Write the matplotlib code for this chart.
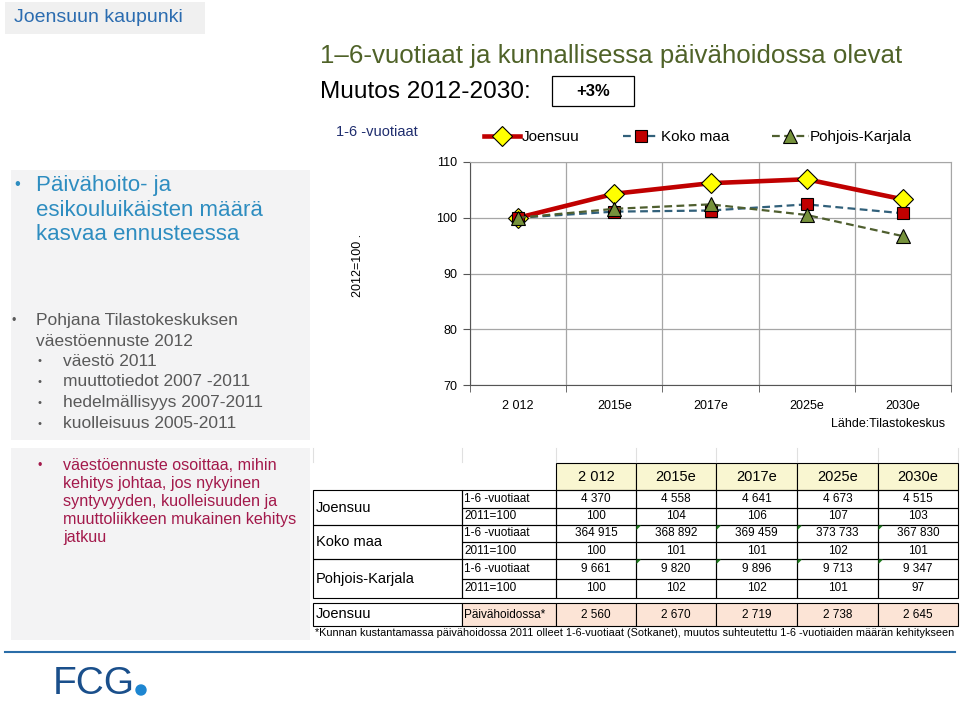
import numpy as np
import matplotlib
matplotlib.use('Agg')
import matplotlib.pyplot as plt
from matplotlib.patches import Rectangle, Polygon, Circle

plt.rcParams['font.family'] = ['Liberation Sans', 'DejaVu Sans']

# data
years = ['2 012', '2015e', '2017e', '2025e', '2030e']
joensuu_idx = [100, 104.3, 106.2, 106.9, 103.3]
koko_idx = [100, 101.1, 101.3, 102.4, 100.8]
pk_idx = [100, 101.6, 102.4, 100.5, 96.7]

groups = ['Joensuu', 'Koko maa', 'Pohjois-Karjala']
sub_labels = ['1-6 -vuotiaat', '2011=100']
joensuu_tab = [['4 370', '4 558', '4 641', '4 673', '4 515'],
               ['100', '104', '106', '107', '103']]
koko_tab = [['364 915', '368 892', '369 459', '373 733', '367 830'],
            ['100', '101', '101', '102', '101']]
pk_tab = [['9 661', '9 820', '9 896', '9 713', '9 347'],
          ['100', '102', '102', '101', '97']]
hoito_label = 'Päivähoidossa*'
hoito_vals = ['2 560', '2 670', '2 719', '2 738', '2 645']

fig = plt.figure(figsize=(9.6, 7.06), dpi=100)

# background layer in pixel coords
bg = fig.add_axes([0, 0, 1, 1])
bg.set_xlim(0, 960)
bg.set_ylim(706, 0)
bg.axis('off')

# header box
bg.add_patch(Rectangle((5, 2), 200, 32, color='#f0f0f0', lw=0))
bg.text(14, 18, 'Joensuun kaupunki', fontsize=14, color='#2b6cb0', va='center')

# left panels
bg.add_patch(Rectangle((11, 170), 299, 270, color='#f3f3f4', lw=0))
bg.add_patch(Rectangle((11, 448), 299, 192, color='#f3f3f4', lw=0))

blue = '#2e8dc0'
bg.text(14, 185, '•', fontsize=12, color=blue, va='center')
for i, s in enumerate(['Päivähoito- ja', 'esikouluikäisten määrä', 'kasvaa ennusteessa']):
    bg.text(36, 185 + i * 25, s, fontsize=16, color=blue, va='center')

grey = '#595959'
bg.text(12, 321, '•', fontsize=9, color=grey, va='center')
bg.text(36, 321, 'Pohjana Tilastokeskuksen', fontsize=12.5, color=grey, va='center')
bg.text(36, 341, 'väestöennuste 2012', fontsize=12.5, color=grey, va='center')
subs = ['väestö 2011', 'muuttotiedot 2007 -2011', 'hedelmällisyys 2007-2011', 'kuolleisuus 2005-2011']
for i, s in enumerate(subs):
    bg.text(37, 361 + i * 21, '•', fontsize=8, color=grey, va='center')
    bg.text(63, 361 + i * 21, s, fontsize=12.5, color=grey, va='center')

pink = '#a3194b'
bg.text(38, 466, '•', fontsize=9, color=pink, va='center')
lines = ['väestöennuste osoittaa, mihin', 'kehitys johtaa, jos nykyinen',
         'syntyvyyden, kuolleisuuden ja', 'muuttoliikkeen mukainen kehitys', 'jatkuu']
for i, s in enumerate(lines):
    bg.text(63, 466 + i * 17.8, s, fontsize=11.6, color=pink, va='center')

# titles
bg.text(320, 56, '1–6-vuotiaat ja kunnallisessa päivähoidossa olevat',
        fontsize=18.6, color='#4f6228', va='center')
bg.text(320, 92, 'Muutos 2012-2030:', fontsize=17.6, color='black', va='center')
bg.add_patch(Rectangle((552, 76), 82, 30, fill=False, ec='black', lw=0.9))
bg.text(593, 91, '+3%', fontsize=12, fontweight='bold', ha='center', va='center')

bg.text(336, 132, '1-6 -vuotiaat', fontsize=10.5, color='#1f2d6e', va='center')
bg.text(358, 265, '2012=100 .', fontsize=9, rotation=90, ha='center', va='center')
bg.text(945, 424, 'Lähde:Tilastokeskus', fontsize=9, ha='right', va='center')

# table
cx = [313, 462, 556, 636, 716, 797, 878, 958]
yellow = '#f9f6d1'
peach = '#fce4d6'
for x in cx:
    bg.plot([x, x], [448, 462], color='#e0e0e0', lw=0.8)
for j, yr in enumerate(years):
    bg.add_patch(Rectangle((cx[j + 2], 463), cx[j + 3] - cx[j + 2], 27,
                           fc=yellow, ec='black', lw=0.8))
    bg.text((cx[j + 2] + cx[j + 3]) / 2, 477, yr, fontsize=10.5, ha='center', va='center')

blocks = [(490, 525), (525, 559), (559, 598)]
tabs = [joensuu_tab, koko_tab, pk_tab]
for g, (name, (y0, y1), tab) in enumerate(zip(groups, blocks, tabs)):
    ym = (y0 + y1) / 2
    bg.add_patch(Rectangle((cx[0], y0), cx[1] - cx[0], y1 - y0, fill=False, ec='black', lw=0.8))
    bg.text(cx[0] + 3, ym, name, fontsize=10.5, va='center')
    for r in range(2):
        ra, rb = (y0, ym) if r == 0 else (ym, y1)
        bg.add_patch(Rectangle((cx[1], ra), cx[2] - cx[1], rb - ra, fill=False, ec='black', lw=0.8))
        bg.text(cx[1] + 2, (ra + rb) / 2, sub_labels[r], fontsize=8.5, va='center')
        for j in range(5):
            bg.add_patch(Rectangle((cx[j + 2], ra), cx[j + 3] - cx[j + 2], rb - ra,
                                   fill=False, ec='black', lw=0.8))
            bg.text((cx[j + 2] + cx[j + 3]) / 2, (ra + rb) / 2, tab[r][j],
                    fontsize=8.5, ha='center', va='center')
            if g > 0 and r == 0 and j > 0:
                xl = cx[j + 2]
                bg.add_patch(Polygon([[xl + 0.5, ra + 0.5], [xl + 5, ra + 0.5], [xl + 0.5, ra + 5]],
                                     color='#1e7b1e', lw=0))

# Päivähoidossa row
fy0, fy1 = 603, 626
bg.add_patch(Rectangle((cx[0], fy0), cx[1] - cx[0], fy1 - fy0, fill=False, ec='black', lw=0.8))
bg.text(cx[0] + 3, (fy0 + fy1) / 2, 'Joensuu', fontsize=10.5, va='center')
bg.add_patch(Rectangle((cx[1], fy0), cx[2] - cx[1], fy1 - fy0, fc=peach, ec='black', lw=0.8))
bg.text(cx[1] + 2, (fy0 + fy1) / 2, hoito_label, fontsize=8.5, va='center')
for j in range(5):
    bg.add_patch(Rectangle((cx[j + 2], fy0), cx[j + 3] - cx[j + 2], fy1 - fy0,
                           fc=peach, ec='black', lw=0.8))
    bg.text((cx[j + 2] + cx[j + 3]) / 2, (fy0 + fy1) / 2, hoito_vals[j],
            fontsize=8.5, ha='center', va='center')

bg.text(315, 633, '*Kunnan kustantamassa päivähoidossa 2011 olleet 1-6-vuotiaat (Sotkanet), '
        'muutos suhteutettu 1-6 -vuotiaiden määrän kehitykseen',
        fontsize=7.8, va='center')

# footer
bg.plot([5, 955], [652, 652], color='#2a6da8', lw=1.5)
bg.text(53, 684, 'FCG', fontsize=28, color='#1a4f8b', va='center')
bg.add_patch(Circle((141, 690), 5, color='#1d86d1'))

# chart
ax = fig.add_axes([470 / 960, 1 - 385 / 706, 481 / 960, 223 / 706])
ax.set_facecolor('none')
x = np.arange(len(years))
ax.plot(x, joensuu_idx, color='#c00000', lw=3.3, marker='D', ms=10,
        mfc='#ffff00', mec='black', mew=0.8, label='Joensuu', zorder=3)
ax.plot(x, koko_idx, color='#31607a', lw=1.6, ls=(0, (3.5, 2)), marker='s', ms=8.5,
        mfc='#c00000', mec='black', mew=0.8, label='Koko maa', zorder=4)
ax.plot(x, pk_idx, color='#4f5f2f', lw=1.6, ls=(0, (3.5, 2)), marker='^', ms=9.5,
        mfc='#76923c', mec='black', mew=0.8, label='Pohjois-Karjala', zorder=5)

ax.set_xlim(-0.5, len(years) - 0.5)
ax.set_ylim(70, 110)
ax.set_yticks([70, 80, 90, 100, 110])
ax.set_xticks(x)
ax.set_xticklabels(years)
ax.set_xticks(np.arange(-0.5, len(years)), minor=True)
ax.tick_params(axis='x', which='major', length=0, labelsize=9, pad=11)
ax.tick_params(axis='x', which='minor', length=5, direction='out', color='#555555')
ax.tick_params(axis='y', length=5, labelsize=9, color='#555555', pad=4)
ax.grid(True, which='minor', axis='x', color='#a6a6a6', lw=0.9)
ax.grid(True, which='major', axis='y', color='#a6a6a6', lw=0.9)
for s in ['top', 'right']:
    ax.spines[s].set_color('#a6a6a6')
for s in ['left', 'bottom']:
    ax.spines[s].set_color('#555555')

ax.legend(loc='center', bbox_to_anchor=(0.474, 1.112), ncol=3, frameon=False,
          fontsize=11, handlelength=2.4, columnspacing=2.8, handletextpad=0.1,
          borderpad=0)

fig.savefig('out.png', dpi=100)
